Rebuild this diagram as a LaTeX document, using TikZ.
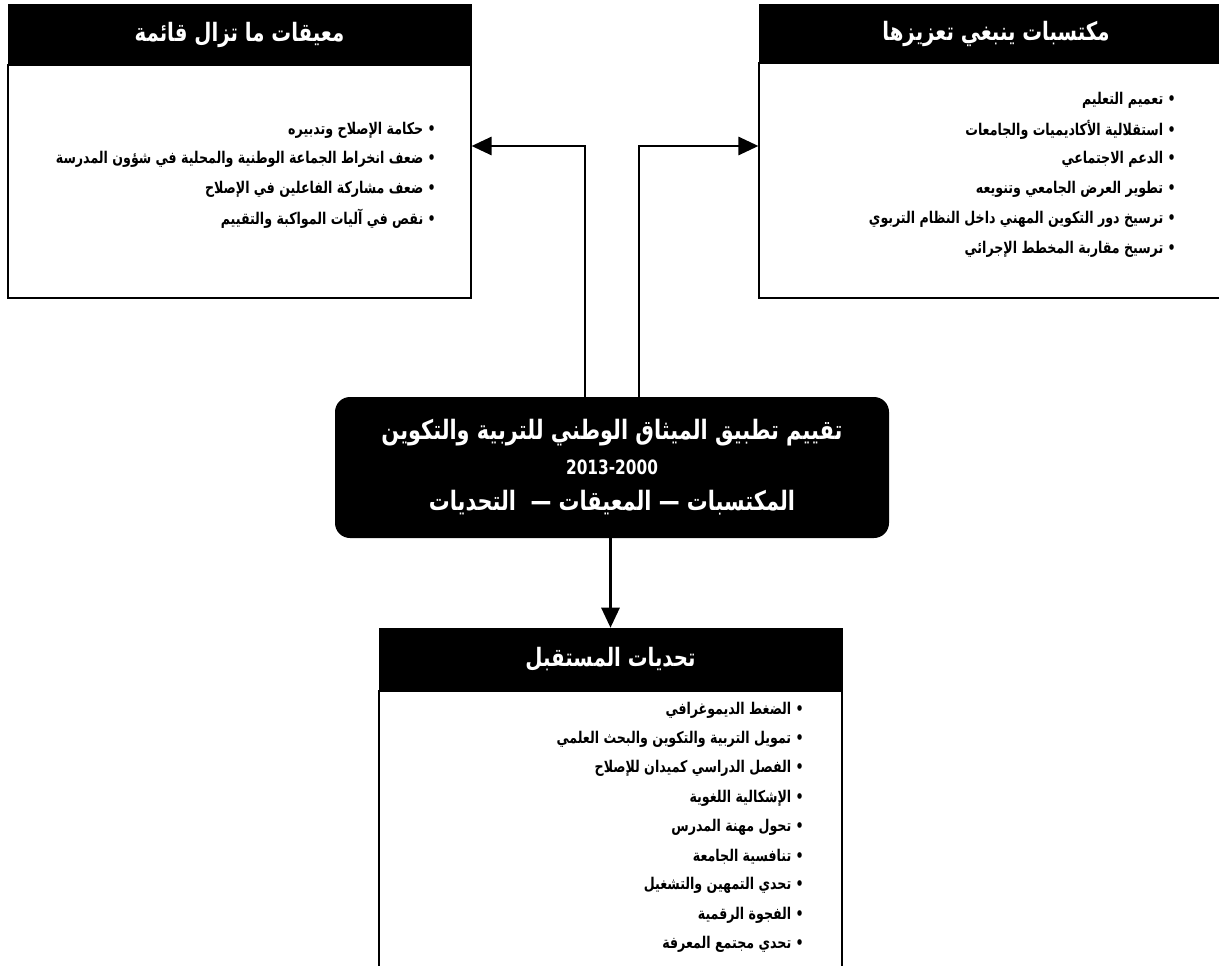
\documentclass[tikz,border=0pt]{standalone}
\usepackage{fontspec}
\newfontfamily\arabicfont[Script=Arabic, FakeStretch=0.78]{DejaVu Sans}
\TeXXeTstate=1
\usetikzlibrary{arrows.meta,positioning,fit}
\tikzset{
	headbox/.style={fill=black, draw=black, inner sep=0pt},
	headtext/.style={text=white, inner sep=0pt,
			font=\arabicfont\bfseries\fontsize{18}{21}\selectfont},
	bodybox/.style={draw=black, line width=0.8pt, inner sep=0pt},
	ctrbox/.style={fill=black, rounded corners=0.375cm, inner sep=0pt},
	ctrtext/.style={text=white, inner sep=0pt,
			font=\arabicfont\bfseries\fontsize{19}{22}\selectfont},
	item/.style={anchor=east, inner sep=0pt,
			font=\arabicfont\bfseries\fontsize{11.5}{13}\selectfont},
	link/.style={line width=2pt, -{Triangle[length=0.5cm, width=0.45cm]}}
}

\begin{document}
\begin{tikzpicture}[x=0.025cm, y=-0.025cm]
	\useasboundingbox (0,0) rectangle (1219,966);

	% left box
	\node[bodybox, fit={(8,65) (471,298)}] (lbody) {};
	\node[headbox, fit={(8,4) (471,65)}] (lhead) {};
	\node[headtext] (ltitle) at (lhead.center) {\beginR معيقات ما تزال قائمة\endR};
	\foreach \t [count=\i from 0] in {حكامة الإصلاح وتدبيره,
			ضعف انخراط الجماعة الوطنية والمحلية في شؤون المدرسة,
			ضعف مشاركة الفاعلين في الإصلاح,
			نقص في آليات المواكبة والتقييم} {
		\node[item] (li\i) at (436,{130+29.5*\i}) {\beginR • \t\endR};
	}

	% right box
	\node[bodybox, fit={(759,63) (1233,298)}] (rbody) {};
	\node[headbox, fit={(759,4) (1233,63)}] (rhead) {};
	\node[headtext] (rtitle) at (rhead.center) {\beginR مكتسبات ينبغي تعزيزها\endR};
	\foreach \t [count=\i from 0] in {تعميم التعليم,
			استقلالية الأكاديميات والجامعات,
			الدعم الاجتماعي,
			تطوير العرض الجامعي وتنويعه,
			ترسيخ دور التكوين المهني داخل النظام التربوي,
			ترسيخ مقاربة المخطط الإجرائي} {
		\node[item] (ri\i) at (1176,{100+29.8*\i}) {\beginR • \t\endR};
	}

	% centre box
	\node[ctrbox, fit={(335,397) (889,538)}] (ctr) {};
	\node[ctrtext] (ctr1) at (612,433) {\beginR تقييم تطبيق الميثاق الوطني للتربية والتكوين\endR};
	\node[ctrtext, font=\arabicfont\bfseries\fontsize{14}{16}\selectfont] (ctr2) at (612,467) {2013-2000};
	\node[ctrtext] (ctr3) at (612,503) {\beginR المكتسبات — المعيقات —~ التحديات\endR};

	% bottom box
	\node[bodybox, fit={(379,691) (842,990)}] (bbody) {};
	\node[headbox, fit={(379,628) (842,691)}] (bhead) {};
	\node[headtext] (btitle) at (bhead.center) {\beginR تحديات المستقبل\endR};
	\foreach \t [count=\i from 0] in {الضغط الديموغرافي,
			تمويل التربية والتكوين والبحث العلمي,
			الفصل الدراسي كميدان للإصلاح,
			الإشكالية اللغوية,
			تحول مهنة المدرس,
			تنافسية الجامعة,
			تحدي التمهين والتشغيل,
			الفجوة الرقمية,
			تحدي مجتمع المعرفة} {
		\node[item] (bi\i) at (804,{710+29.3*\i}) {\beginR • \t\endR};
	}

	% connectors
	\coordinate (lbend) at (585,146);
	\coordinate (rbend) at (639,146);
	\draw[link] (ctr.north -| lbend) -- (lbend) -- (lbody.east |- lbend);
	\draw[link] (ctr.north -| rbend) -- (rbend) -- (rbody.west |- rbend);
	\draw[link] (ctr.south -| bhead.north) -- (bhead.north);
\end{tikzpicture}
\end{document}
